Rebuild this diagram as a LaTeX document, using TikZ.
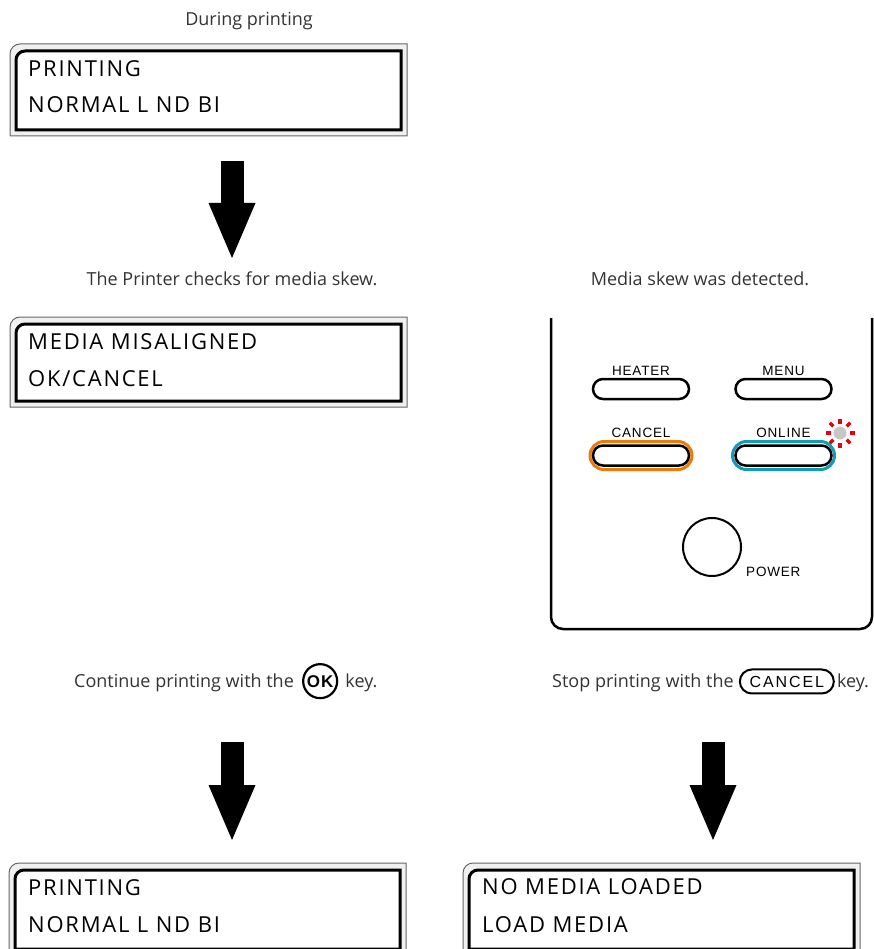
\documentclass[tikz,border=0pt]{standalone}
\usepackage{fontspec}
\setmainfont{Open Sans}
\newfontfamily\lcdfont[LetterSpace=8]{Open Sans}
\newfontfamily\keyfont[LetterSpace=6]{Liberation Sans}
\newfontfamily\badgefont[LetterSpace=12]{Liberation Sans}
\usepackage{tikz}
\usetikzlibrary{arrows.meta, positioning}
\definecolor{KeyOrange}{RGB}{234,125,10}
\definecolor{KeyTeal}{RGB}{20,155,178}
\definecolor{LampRed}{RGB}{230,0,18}

\begin{document}
\begin{tikzpicture}[x=1pt, y=-1pt,
    caption/.style={font=\fontsize{18}{20}\selectfont, text=black!80, inner sep=0pt},
    lcdtext/.style={font=\lcdfont\fontsize{22}{24}\selectfont, anchor=base west, inner sep=0pt},
    lcdouter/.style={draw=black!60, fill=black!6, line width=1pt},
    lcdinner/.style={draw=black, fill=white, line width=3pt},
    panelkey/.style={draw, line width=2.5pt, rounded corners=10pt, minimum width=96pt, minimum height=20pt, inner sep=0pt},
    keyring/.style={draw, line width=3pt, rounded corners=14pt, minimum width=102pt, minimum height=28pt, inner sep=0pt},
    keylabel/.style={font=\keyfont\fontsize{13.5}{15}\selectfont, inner sep=0pt},
    okkey/.style={draw, circle, line width=2.2pt, minimum size=34pt, inner sep=0pt, font=\keyfont\bfseries\fontsize{17}{19}\selectfont},
    cancelkey/.style={draw, line width=2pt, rounded corners=12pt, minimum width=94pt, minimum height=24pt, inner sep=0pt, font=\badgefont\fontsize{16}{18}\selectfont},
    bigarrow/.style={line width=23pt, -{Triangle[length=55pt, width=47pt, line width=0pt]}}]
    \useasboundingbox (0,0) rectangle (874,949);

    % LCD frames
    \foreach \fx/\fy/\fh in {10/44/92, 10/317/90, 9/863/92, 463/863/92} {
        \draw[lcdouter] (\fx,\fy+\fh) -- (\fx,\fy+10) arc[start angle=180, end angle=270, radius=10] -- (\fx+397,\fy) -- (\fx+397,\fy+\fh) -- cycle;
        \draw[lcdinner] (\fx+6,\fy+\fh-6) -- (\fx+6,\fy+16) arc[start angle=180, end angle=270, radius=9] -- (\fx+391,\fy+7) -- (\fx+391,\fy+\fh-6) -- cycle;
    }

    % LCD texts
    \node[lcdtext] (lcdA1) at (28,77) {PRINTING};
    \node[lcdtext] (lcdA2) at (28,113) {NORMAL L ND BI};
    \node[lcdtext] (lcdB1) at (28,349) {MEDIA MISALIGNED};
    \node[lcdtext] (lcdB2) at (28,386) {OK/CANCEL};
    \node[lcdtext] (lcdC1) at (28,895) {PRINTING};
    \node[lcdtext] (lcdC2) at (28,932) {NORMAL L ND BI};
    \node[lcdtext] (lcdD1) at (482,894) {NO MEDIA LOADED};
    \node[lcdtext] (lcdD2) at (482,932) {LOAD MEDIA};

    % captions
    \node[caption, anchor=base] (during) at (249,26) {During printing};
    \node[caption, anchor=base] (checks) at (232,285) {The Printer checks for media skew.};
    \node[caption, anchor=base] (detected) at (700,285) {Media skew was detected.};
    \node[caption, anchor=base west] (contL) at (74,687) {Continue printing with the};
    \node[okkey, base right=8pt of contL] (okkey) {OK};
    \node[caption, base right=7pt of okkey] (contR) {key.};
    \node[caption, anchor=base west] (stopL) at (552,687) {Stop printing with the};
    \node[cancelkey, base right=5pt of stopL] (cancelkey) {CANCEL};
    \node[caption, base right=2pt of cancelkey] (stopR) {key.};

    % arrows
    \coordinate (arrA) at (232,161);
    \coordinate (arrAend) at (232,258);
    \coordinate (arrB) at (232,742);
    \coordinate (arrBend) at (232,840);
    \coordinate (arrC) at (713,742);
    \coordinate (arrCend) at (713,840);
    \draw[bigarrow] (arrA) -- (arrAend);
    \draw[bigarrow] (arrB) -- (arrBend);
    \draw[bigarrow] (arrC) -- (arrCend);

    % operation panel
    \draw[line width=2.5pt, rounded corners=12pt] (551,318) -- (551,629) -- (872,629) -- (872,318);
    \node[keyring, draw=KeyOrange] (cancelring) at (641,455.5) {};
    \node[keyring, draw=KeyTeal] (onlinering) at (783.5,455.5) {};
    \node[panelkey] (heater) at (641,389) {};
    \node[panelkey] (menu) at (783.5,389) {};
    \node[panelkey] (cancel) at (641,455.5) {};
    \node[panelkey] (online) at (783.5,455.5) {};
    \node[keylabel, above=2pt of heater] (heaterlabel) {HEATER};
    \node[keylabel, above=2pt of menu] (menulabel) {MENU};
    \node[keylabel, above=2pt of cancelring] (cancellabel) {CANCEL};
    \node[keylabel, above=2pt of onlinering] (onlinelabel) {ONLINE};
    \node[draw, circle, line width=2pt, minimum size=58pt] (power) at (712,547) {};
    \node[keylabel, anchor=west] (powerlabel) at (746,572) {POWER};

    % blinking lamp
    \coordinate (lamp) at (840,433);
    \fill[black!22] (lamp) circle[radius=6.5];
    \foreach \a in {0,45,...,315}
        \draw[LampRed, line width=3.5pt] (lamp) ++(\a:9.5) -- ++(\a:5);
\end{tikzpicture}
\end{document}
